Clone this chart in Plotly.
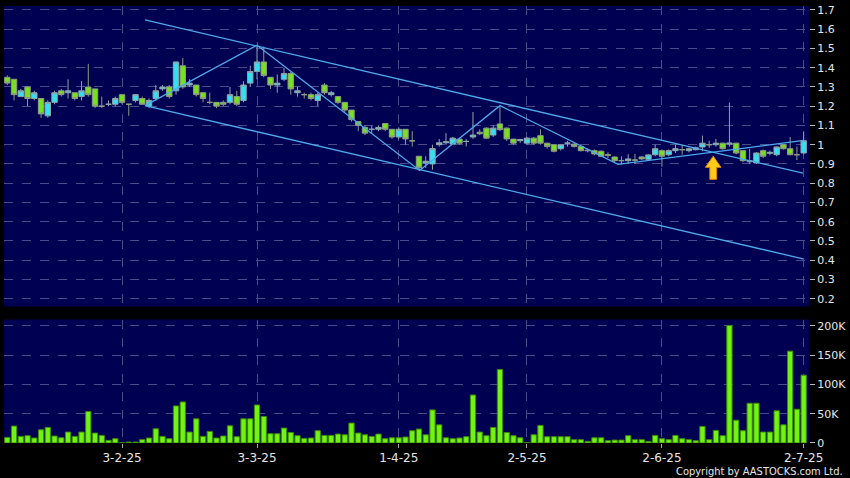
import plotly.graph_objects as go

# ---------------- data ----------------
idx = list(range(119))

open_ = [1.35,1.34,1.25,1.30,1.24,1.24,1.15,1.22,1.28,1.27,1.27,1.25,1.30,1.29,1.20,1.21,1.21,1.26,1.21,1.23,
         1.24,1.20,1.24,1.29,1.30,1.28,1.41,1.31,1.31,1.27,1.22,1.22,1.22,1.22,1.25,1.23,1.32,1.38,1.43,1.35,
         1.31,1.34,1.37,1.27,1.26,1.26,1.23,1.31,1.26,1.25,1.22,1.18,1.12,1.09,1.08,1.08,1.11,1.08,1.04,1.08,
         1.02,0.94,0.905,0.90,1.00,1.01,1.003,1.029,1.017,1.04,1.065,1.086,1.05,1.108,1.086,1.029,1.021,1.008,1.034,1.047,
         1.008,1.00,0.979,1.008,1.003,0.991,0.972,0.969,0.966,0.948,0.936,0.917,0.917,0.92,0.936,0.924,0.948,0.969,0.948,0.969,
         0.974,0.969,0.974,0.988,1.00,1.00,1.008,1.003,1.008,0.969,0.917,0.905,0.969,0.955,0.948,1.00,0.979,0.948,0.957]
high = [1.36,1.34,1.29,1.30,1.28,1.24,1.23,1.28,1.29,1.34,1.27,1.33,1.42,1.29,1.25,1.23,1.25,1.26,1.21,1.26,
        1.25,1.24,1.31,1.31,1.31,1.43,1.45,1.34,1.31,1.27,1.27,1.22,1.23,1.30,1.28,1.33,1.41,1.51,1.51,1.35,
        1.365,1.40,1.38,1.30,1.27,1.27,1.27,1.32,1.28,1.25,1.22,1.18,1.12,1.10,1.10,1.10,1.11,1.08,1.09,1.08,
        1.07,0.94,0.94,1.00,1.03,1.06,1.04,1.03,1.029,1.17,1.08,1.09,1.10,1.20,1.09,1.03,1.03,1.04,1.04,1.08,
        1.01,1.00,1.00,1.02,1.01,0.995,0.98,0.975,0.97,0.96,0.94,0.94,0.95,0.952,0.94,0.95,1.00,0.975,0.975,1.00,
        1.00,0.985,0.99,1.047,1.021,1.03,1.01,1.219,1.01,0.97,0.979,0.96,0.975,0.97,0.99,1.00,1.04,0.99,1.069]
low = [1.31,1.23,1.25,1.20,1.23,1.14,1.14,1.21,1.25,1.24,1.23,1.23,1.25,1.19,1.19,1.20,1.20,1.21,1.15,1.22,
       1.21,1.19,1.23,1.28,1.24,1.26,1.29,1.30,1.25,1.22,1.21,1.19,1.20,1.21,1.20,1.22,1.30,1.34,1.35,1.29,
       1.27,1.33,1.26,1.25,1.24,1.23,1.20,1.26,1.25,1.21,1.17,1.12,1.07,1.05,1.06,1.07,1.07,1.03,1.03,1.00,
       0.99,0.866,0.88,0.87,0.99,1.00,1.00,1.00,0.991,1.03,1.05,1.03,1.04,1.07,1.02,1.00,1.01,1.00,1.00,1.00,
       0.98,0.96,0.97,0.99,0.985,0.965,0.96,0.945,0.935,0.93,0.91,0.897,0.90,0.90,0.92,0.92,0.94,0.885,0.94,0.957,
       0.948,0.96,0.97,0.966,0.983,0.99,0.975,0.99,0.95,0.91,0.90,0.90,0.93,0.945,0.94,0.975,0.945,0.92,0.95]
close = [1.32,1.26,1.28,1.24,1.27,1.16,1.22,1.27,1.26,1.28,1.24,1.28,1.26,1.20,1.20,1.21,1.24,1.22,1.21,1.26,
         1.21,1.23,1.28,1.30,1.25,1.43,1.30,1.32,1.26,1.24,1.22,1.20,1.21,1.26,1.21,1.31,1.38,1.43,1.36,1.31,
         1.32,1.37,1.29,1.28,1.26,1.24,1.26,1.27,1.27,1.22,1.18,1.13,1.10,1.06,1.08,1.09,1.08,1.04,1.08,1.03,
         1.02,0.88,0.914,0.98,1.01,1.015,1.034,1.008,1.017,1.05,1.057,1.034,1.086,1.078,1.03,1.008,1.026,1.034,1.008,1.008,
         0.991,0.966,1.00,1.008,0.991,0.969,0.969,0.952,0.94,0.945,0.917,0.917,0.926,0.92,0.926,0.947,0.979,0.94,0.969,0.979,
         0.974,0.979,0.984,1.008,1.00,1.008,0.979,1.008,0.957,0.917,0.912,0.957,0.94,0.96,0.988,0.979,0.948,0.948,1.021]
volume_k = [9.6,28.9,11.3,12.5,8.5,22.6,26.6,11.9,9,18.7,11.3,18.7,53.8,17,13,4.5,7.4,0.5,1.5,1.5,
            5.7,8.5,24.3,11.3,7.4,63.4,70.2,18.7,41.3,11.3,19.8,8.5,11.9,29.4,10.8,41.3,41.3,65,45.3,15.9,
            15.9,25.5,18,12.5,7.9,8.5,21,13,13,15.3,14,34,17,14,11.3,15.3,7.4,9,9,10.2,
            21,23.8,14,56.6,31,9,7.4,8.5,10.8,82,18.7,12.5,26.6,125.7,18,12.5,9,0.8,14,30,
            10.8,10.8,10.8,10.8,5.7,5.7,2.8,9,9,4,5,5,12.5,5.7,5.7,2.8,13,7.4,5.7,13,
            7.4,5.7,4,28.3,5.7,21.5,12.5,200.9,39,21,68,68,18.7,18.7,55,31,157,57.7,116]
volume = [v * 1000 for v in volume_k]

tick_idx = [17, 37, 58, 77, 97, 118]
tick_labels = ["3-2-25", "3-3-25", "1-4-25", "2-5-25", "2-6-25", "2-7-25"]
price_ticks = [0.2, 0.3, 0.4, 0.5, 0.6, 0.7, 0.8, 0.9, 1.0, 1.1, 1.2, 1.3, 1.4, 1.5, 1.6, 1.7]
price_tick_labels = ["0.2", "0.3", "0.4", "0.5", "0.6", "0.7", "0.8", "0.9", "1", "1.1",
                     "1.2", "1.3", "1.4", "1.5", "1.6", "1.7"]
vol_ticks = [0, 50000, 100000, 150000, 200000]
vol_tick_labels = ["0", "50K", "100K", "150K", "200K"]

# drawn trend lines (index, price)
upper_channel_x = [20.4, 117.9]
upper_channel_y = [1.648, 0.852]
lower_channel_x = [20.4, 117.9]
lower_channel_y = [1.203, 0.407]
zigzag_x = [20.4, 37.0, 61.1, 73.0, 90.5, 118.0]
zigzag_y = [1.203, 1.517, 0.866, 1.203, 0.898, 1.022]

# signal arrow
signal_idx = 104.6
signal_tip = 0.94
signal_base = 0.82

# ---------------- styles ----------------
BG = "#000052"
GRID = "#4b4b8c"
LINE = "#4ea9ea"
FONT = dict(family="DejaVu Sans", size=11, color="#e6e6e6")

fig = go.Figure()

fig.add_trace(go.Candlestick(
    x=idx, open=open_, high=high, low=low, close=close,
    increasing=dict(fillcolor="#33e0f0", line=dict(color="#90a4aa", width=1)),
    decreasing=dict(fillcolor="#78e01e", line=dict(color="#8c9c84", width=1)),
    whiskerwidth=0, xaxis="x", yaxis="y", showlegend=False, hoverinfo="skip"))

for xs, ys in [(upper_channel_x, upper_channel_y), (lower_channel_x, lower_channel_y), (zigzag_x, zigzag_y)]:
    fig.add_trace(go.Scatter(x=xs, y=ys, mode="lines", line=dict(color=LINE, width=1.3),
                             xaxis="x", yaxis="y", showlegend=False, hoverinfo="skip"))

# arrow polygon built from the signal anchor
head_h = (signal_tip - signal_base) * 0.48
ax = [signal_idx, signal_idx + 1.15, signal_idx + 0.5, signal_idx + 0.5, signal_idx - 0.5, signal_idx - 0.5,
      signal_idx - 1.15, signal_idx]
ay = [signal_tip, signal_tip - head_h, signal_tip - head_h, signal_base, signal_base, signal_tip - head_h,
      signal_tip - head_h, signal_tip]
fig.add_trace(go.Scatter(x=ax, y=ay, mode="lines", fill="toself", fillcolor="#ffcc1a",
                         line=dict(color="#e08a00", width=1), xaxis="x", yaxis="y",
                         showlegend=False, hoverinfo="skip"))

fig.add_trace(go.Bar(x=idx, y=volume, marker=dict(color="#72f412", line=dict(color="#3d8a05", width=1)),
                     xaxis="x2", yaxis="y2", showlegend=False, hoverinfo="skip"))

x_range = [-0.49, 118.79]
common_x = dict(range=x_range, tickmode="array", tickvals=tick_idx, showgrid=True, gridcolor=GRID,
                griddash="dash", gridwidth=1, zeroline=False, showline=False)

fig.update_layout(
    width=850, height=478,
    margin=dict(l=4, r=38, t=4, b=35),
    paper_bgcolor="black", plot_bgcolor="black",
    font=FONT, bargap=0.22, boxgap=0.2, boxgroupgap=0,
    xaxis=dict(domain=[0, 1], anchor="y", showticklabels=False, ticks="",
               rangeslider=dict(visible=False), **common_x),
    xaxis2=dict(domain=[0, 1], anchor="y2", matches="x", ticktext=tick_labels, ticks="outside",
                ticklen=4, tickcolor="#aaaaaa", tickfont=dict(family="DejaVu Sans", size=12, color="#e6e6e6"),
                **common_x),
    yaxis=dict(domain=[0.3121, 1], range=[0.1586, 1.7207], side="right", tickmode="array",
               tickvals=price_ticks, ticktext=price_tick_labels, ticks="outside", ticklen=5,
               tickcolor="#bbbbbb", tickfont=FONT, showgrid=True, gridcolor=GRID, griddash="dash",
               zeroline=False, showline=False),
    yaxis2=dict(domain=[0, 0.2825], range=[0, 211000], side="right", tickmode="array",
                tickvals=vol_ticks, ticktext=vol_tick_labels, ticks="outside", ticklen=5,
                tickcolor="#bbbbbb", tickfont=FONT, showgrid=True, gridcolor=GRID, griddash="dash",
                zeroline=False, showline=False),
    shapes=[
        dict(type="rect", xref="x domain", yref="y domain", x0=0, x1=1, y0=0, y1=1,
             fillcolor=BG, line=dict(width=0), layer="below"),
        dict(type="rect", xref="x2 domain", yref="y2 domain", x0=0, x1=1, y0=0, y1=1,
             fillcolor=BG, line=dict(width=0), layer="below"),
    ],
    annotations=[dict(text="Copyright by AASTOCKS.com Ltd.", xref="paper", yref="paper",
                      x=1.0446, y=-0.066, xanchor="right", yanchor="middle", showarrow=False,
                      font=dict(family="DejaVu Sans Condensed, Liberation Sans Narrow, DejaVu Sans",
                                size=11, color="#e6e6e6"))],
)

fig.write_html("out.html", config={"displayModeBar": False},
               post_script="document.body.style.margin='0px';document.body.style.overflow='hidden';")
